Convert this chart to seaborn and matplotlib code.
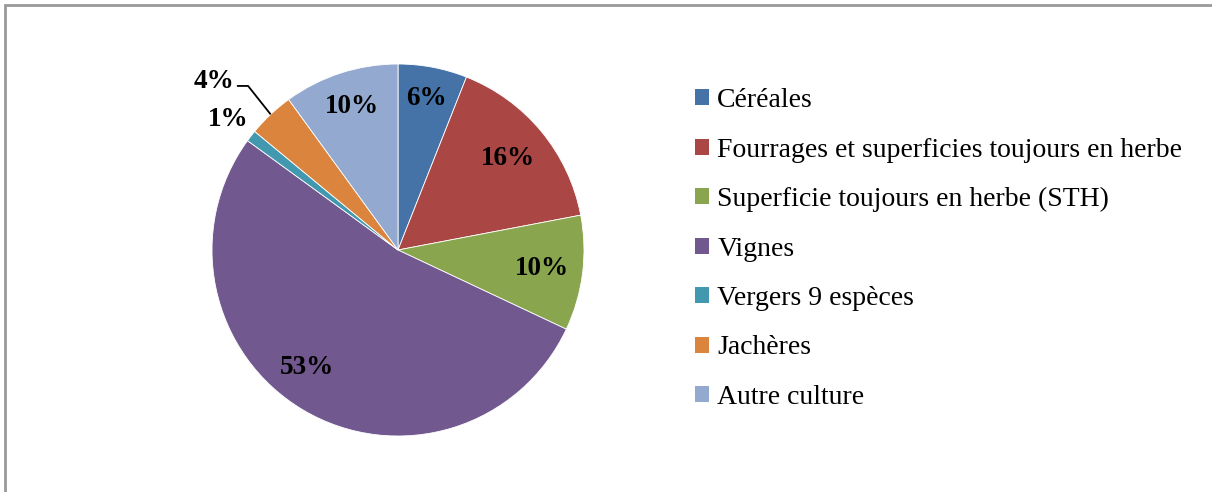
import matplotlib.pyplot as plt
import numpy as np
import seaborn as sns
from matplotlib.patches import Rectangle

categories = [
    "Céréales",
    "Fourrages et superficies toujours en herbe",
    "Superficie toujours en herbe (STH)",
    "Vignes",
    "Vergers 9 espèces",
    "Jachères",
    "Autre culture",
]
shares = [6, 16, 10, 53, 1, 4, 10]
colors = ["#4572A7", "#AA4643", "#89A54E", "#71588F", "#4198AF", "#DB843D", "#93A9CF"]

# label placement: distance from centre (in radii) and angular nudge (deg)
label_radius = [0.83, 0.77, 0.78, 0.80, 1.15, 1.0, 0.81]
label_nudge = [0, 0, 0, -7, 0, 0, 0]

sns.set_theme(style="white")
plt.rcParams["font.family"] = ["Liberation Serif", "DejaVu Serif"]
plt.rcParams["text.color"] = "black"

W, H = 1212, 492
fig = plt.figure(figsize=(W / 100, H / 100), dpi=100)
fig.patch.set_facecolor("white")

# outer frame (only top and left edges are visible in the crop)
fig.add_artist(Rectangle((5 / W, -0.1), 1.2, 1 - 5 / H + 0.1, transform=fig.transFigure,
                         fill=False, edgecolor="#999999", linewidth=2))

cx, cy, r = 398, 250, 186
ax = fig.add_axes([(cx - r) / W, (H - cy - r) / H, 2 * r / W, 2 * r / H])
wedges, _ = ax.pie(shares, colors=colors, startangle=90, counterclock=False,
                   radius=1, wedgeprops=dict(edgecolor="white", linewidth=0.6))
ax.set_xlim(-1, 1)
ax.set_ylim(-1, 1)
ax.set_aspect("equal")
ax.axis("off")

lbl = dict(ha="center", va="center", fontsize=19.5, fontweight="bold", color="black")
for i, (w, v) in enumerate(zip(wedges, shares)):
    mid = np.deg2rad((w.theta1 + w.theta2) / 2)
    txt = f"{v}%"
    if categories[i] == "Jachères":
        # outside label with elbow leader line
        ex, ey = np.cos(mid), np.sin(mid)
        ax.plot([-0.866, -0.806, ex], [0.882, 0.882, ey], color="black", lw=1.3,
                solid_capstyle="butt")
        ax.text(-0.989, 0.905, txt, **lbl)
    elif categories[i] == "Vergers 9 espèces":
        ax.text(-0.914, 0.699, txt, **lbl)
    else:
        a = mid + np.deg2rad(label_nudge[i])
        rr = label_radius[i]
        ax.text(rr * np.cos(a), rr * np.sin(a), txt, **lbl)

handles = [Rectangle((0, 0), 1, 1, facecolor=c, edgecolor="none") for c in colors]
leg = fig.legend(handles, categories, loc="upper left",
                 bbox_to_anchor=(684 / W, 1 - 77 / H), frameon=False, fontsize=20,
                 handlelength=0.5, handleheight=0.5, handletextpad=0.3,
                 labelspacing=0.88, borderaxespad=0)
for t in leg.get_texts():
    t.set_color("black")

fig.savefig("out.png", dpi=100, facecolor="white")
